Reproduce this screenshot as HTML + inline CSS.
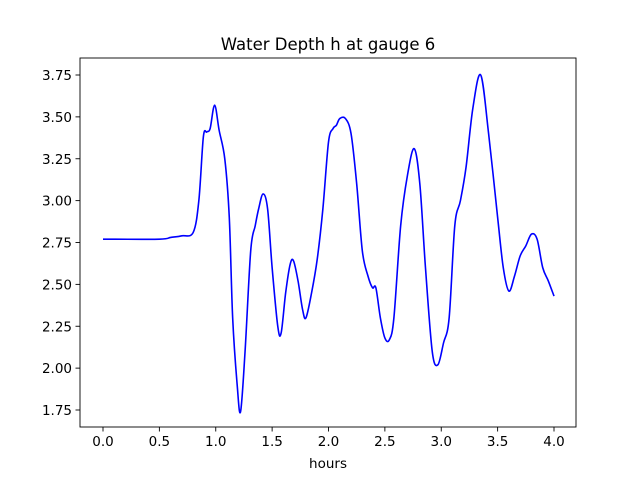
<!DOCTYPE html>
<html><head><meta charset="utf-8"><style>
body{margin:0;background:#fff}
svg{display:block;font-family:"DejaVu Sans","Liberation Sans",sans-serif}
</style></head><body>
<svg id="chart" width="640" height="480">
<rect width="640" height="480" fill="#fff"/>
<text x="328" y="50" text-anchor="middle" font-size="16.5">Water Depth h at gauge 6</text>
<g id="plot"></g>
<text x="328" y="468" text-anchor="middle" font-size="13.5">hours</text>
</svg>
<script>
const hours=[0,0.5,0.6,0.7,0.8,0.85,0.89,0.92,0.95,0.99,1.03,1.08,1.12,1.15,1.19,1.22,1.26,1.31,1.35,1.38,1.42,1.46,1.5,1.55,1.58,1.62,1.66,1.69,1.73,1.77,1.8,1.85,1.9,1.95,2.0,2.04,2.07,2.1,2.15,2.2,2.25,2.3,2.35,2.39,2.42,2.46,2.5,2.54,2.58,2.64,2.7,2.76,2.81,2.86,2.92,2.97,3.02,3.07,3.12,3.17,3.22,3.28,3.35,3.42,3.5,3.55,3.6,3.65,3.7,3.75,3.8,3.85,3.9,3.95,4.0];
const depth=[2.77,2.77,2.78,2.79,2.81,3.0,3.38,3.41,3.43,3.57,3.42,3.25,2.9,2.3,1.9,1.74,2.1,2.7,2.85,2.95,3.04,2.95,2.6,2.25,2.21,2.45,2.62,2.64,2.52,2.35,2.30,2.45,2.65,2.95,3.35,3.43,3.45,3.49,3.49,3.4,3.1,2.7,2.55,2.48,2.48,2.3,2.18,2.17,2.3,2.85,3.15,3.31,3.1,2.6,2.1,2.02,2.15,2.3,2.85,3.0,3.2,3.55,3.75,3.4,2.9,2.6,2.46,2.55,2.67,2.73,2.8,2.77,2.6,2.52,2.43];
const xTicks=["0.0","0.5","1.0","1.5","2.0","2.5","3.0","3.5","4.0"];
const yTicks=["1.75","2.00","2.25","2.50","2.75","3.00","3.25","3.50","3.75"];
const L=80,R=576,T=58,B=427;
const X=v=>103+v*112.75, Y=v=>75+(3.75-v)*167.5;
const NS="http://www.w3.org/2000/svg";
const g=document.getElementById('plot');
function mk(t,a){const e=document.createElementNS(NS,t);for(const k in a)e.setAttribute(k,a[k]);g.appendChild(e);return e;}
// line (Catmull-Rom)
const P=hours.map((h,i)=>[X(h),Y(depth[i])]);
let d=`M${P[0][0]},${P[0][1]}`;
for(let i=0;i<P.length-1;i++){const p0=P[i-1]||P[i],p1=P[i],p2=P[i+1],p3=P[i+2]||p2;
d+=` C${p1[0]+(p2[0]-p0[0])/6},${p1[1]+(p2[1]-p0[1])/6} ${p2[0]-(p3[0]-p1[0])/6},${p2[1]-(p3[1]-p1[1])/6} ${p2[0]},${p2[1]}`;}
const line=mk('path',{d,fill:'none',stroke:'#0000ff','stroke-width':1.6});


const fr=mk('rect',{x:L,y:T,width:R-L,height:B-T,fill:'none',stroke:'#000','stroke-width':0.9});


xTicks.forEach(t=>{const x=X(parseFloat(t));
mk('line',{x1:x,x2:x,y1:B,y2:B+4.5,stroke:'#000','stroke-width':0.9});
const tx=mk('text',{x,y:B+19,'text-anchor':'middle','font-size':13.5});tx.textContent=t;

});
yTicks.forEach(t=>{const y=Y(parseFloat(t));
mk('line',{x1:L-4.5,x2:L,y1:y,y2:y,stroke:'#000','stroke-width':0.9});
const tx=mk('text',{x:L-8,y:y+5,'text-anchor':'end','font-size':13.5});tx.textContent=t;

});
</script>
</body></html>
